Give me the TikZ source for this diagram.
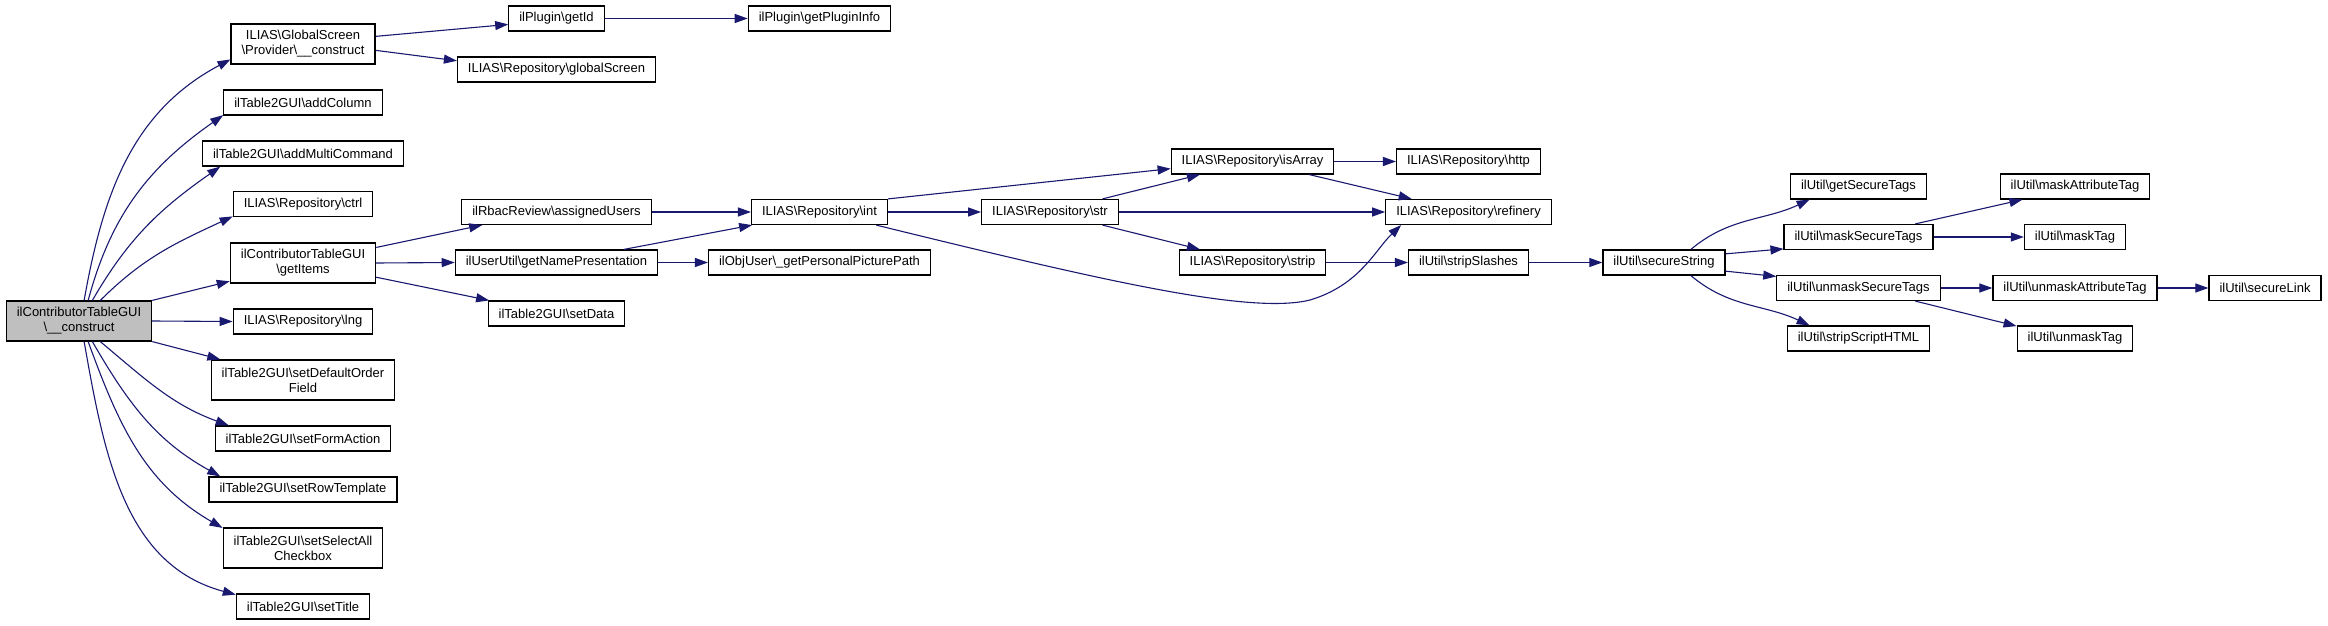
\documentclass[tikz,border=0pt]{standalone}
\usepackage{fontspec}
\setmainfont{Liberation Sans}
\usepackage{xcolor}
\usepackage{tikz}
\usetikzlibrary{arrows.meta}
\definecolor{edgeblue}{HTML}{191970}
\definecolor{curgrey}{HTML}{BFBFBF}
\newcommand{\bsl}{\textbackslash}

\begin{document}
\begin{tikzpicture}[
    x=1pt, y=1pt,
    box/.style={draw=black, line width=1.2pt, inner xsep=10.5pt, inner ysep=0pt, minimum height=25pt, align=center, font=\fontsize{13pt}{15pt}\selectfont},
    tall/.style={box, minimum height=40pt},
    call/.style={draw=edgeblue, line width=1.1pt, -{Triangle[length=13pt, width=9pt]}}
]
\useasboundingbox (0,0) rectangle (2328,625);

\node[tall, fill=curgrey] (main) at (79,304) {ilContributorTableGUI\\\bsl\_\_construct};

\node[tall] (gsc) at (303,581) {ILIAS\bsl GlobalScreen\\\bsl Provider\bsl\_\_construct};
\node[box] (addcol) at (303,522.5) {ilTable2GUI\bsl addColumn};
\node[box] (addmc) at (303,471.5) {ilTable2GUI\bsl addMultiCommand};
\node[box] (ctrl) at (303,421) {ILIAS\bsl Repository\bsl ctrl};
\node[tall] (getitems) at (303,362) {ilContributorTableGUI\\\bsl getItems};
\node[box] (lng) at (303,303.5) {ILIAS\bsl Repository\bsl lng};
\node[tall] (setdef) at (303,245) {ilTable2GUI\bsl setDefaultOrder\\Field};
\node[box] (setform) at (303,186.5) {ilTable2GUI\bsl setFormAction};
\node[box] (setrow) at (303,135.5) {ilTable2GUI\bsl setRowTemplate};
\node[tall] (setsel) at (303,77) {ilTable2GUI\bsl setSelectAll\\Checkbox};
\node[box] (settitle) at (303,18.5) {ilTable2GUI\bsl setTitle};

\node[box] (getid) at (556.5,606.5) {ilPlugin\bsl getId};
\node[box] (globalscreen) at (556.5,555.5) {ILIAS\bsl Repository\bsl globalScreen};
\node[box] (assigned) at (556.5,413) {ilRbacReview\bsl assignedUsers};
\node[box] (getname) at (556.5,362.5) {ilUserUtil\bsl getNamePresentation};
\node[box] (setdata) at (556.5,311.5) {ilTable2GUI\bsl setData};

\node[box] (plugininfo) at (819.5,606.5) {ilPlugin\bsl getPluginInfo};
\node[box] (int) at (819.5,413) {ILIAS\bsl Repository\bsl int};
\node[box] (picpath) at (819.5,362.5) {ilObjUser\bsl\_getPersonalPicturePath};

\node[box] (str) at (1050,413) {ILIAS\bsl Repository\bsl str};
\node[box] (isarray) at (1252.5,463.5) {ILIAS\bsl Repository\bsl isArray};
\node[box] (strip) at (1252.5,362.5) {ILIAS\bsl Repository\bsl strip};
\node[box] (http) at (1468.5,463.5) {ILIAS\bsl Repository\bsl http};
\node[box] (refinery) at (1468.5,413) {ILIAS\bsl Repository\bsl refinery};
\node[box] (stripslashes) at (1468.5,362.5) {ilUtil\bsl stripSlashes};

\node[box] (securestring) at (1664,362.5) {ilUtil\bsl secureString};
\node[box] (getsecure) at (1858.5,438.5) {ilUtil\bsl getSecureTags};
\node[box] (masksecure) at (1858.5,388) {ilUtil\bsl maskSecureTags};
\node[box] (unmasksecure) at (1858.5,337) {ilUtil\bsl unmaskSecureTags};
\node[box] (stripscript) at (1858.5,286.5) {ilUtil\bsl stripScriptHTML};
\node[box] (maskattr) at (2075,438.5) {ilUtil\bsl maskAttributeTag};
\node[box] (masktag) at (2075,388) {ilUtil\bsl maskTag};
\node[box] (unmaskattr) at (2075,337) {ilUtil\bsl unmaskAttributeTag};
\node[box] (unmasktag) at (2075,286.5) {ilUtil\bsl unmaskTag};
\node[box] (securelink) at (2265,337) {ilUtil\bsl secureLink};

\draw[call] (main.76) to[out=80, in=208] (gsc.192);
\draw[call] (main.66) to[out=75, in=215] (addcol.189);
\draw[call] (main.57) to[out=60, in=215] (addmc.189);
\draw[call] (main.44) to[out=45, in=205] (ctrl.190);
\draw[call] (main.north east) -- (getitems.194);
\draw[call] (main.east) -- (lng.west);
\draw[call] (main.south east) -- (setdef.166);
\draw[call] (main.-44) to[out=-40, in=160] (setform.170);
\draw[call] (main.-57) to[out=-60, in=151] (setrow.171);
\draw[call] (main.-66) to[out=-70, in=150] (setsel.166);
\draw[call] (main.-76) to[out=-80, in=165] (settitle.170);

\draw[call] (gsc.6) -- (getid.187);
\draw[call] (gsc.-5) -- (globalscreen.175);
\draw[call] (getid.east) -- (plugininfo.west);

\draw[call] (getitems.12) -- (assigned.190);
\draw[call] (getitems.east) -- (getname.west);
\draw[call] (getitems.-11) -- (setdata.169);
\draw[call] (assigned.east) -- (int.west);
\draw[call] (getname.11) -- (int.191);
\draw[call] (getname.east) -- (picpath.west);

\draw[call] (int.north east) -- (isarray.185);
\draw[call] (int.east) -- (str.west);
\draw[call] (int.-13) .. controls (1100,345) and (1250,310) .. (1310,325) .. controls (1360,340) and (1375,375) .. (refinery.191);
\draw[call] (str.14) -- (isarray.194);
\draw[call] (str.east) -- (refinery.west);
\draw[call] (str.-14) -- (strip.166);
\draw[call] (isarray.east) -- (http.west);
\draw[call] (isarray.-13) -- (refinery.167);
\draw[call] (strip.east) -- (stripslashes.west);
\draw[call] (stripslashes.east) -- (securestring.west);

\draw[call] (securestring.26) to[out=40, in=205] (getsecure.195);
\draw[call] (securestring.8) -- (masksecure.189);
\draw[call] (securestring.-8) -- (unmasksecure.172);
\draw[call] (securestring.-26) to[out=-40, in=155] (stripscript.165);
\draw[call] (masksecure.13) -- (maskattr.194);
\draw[call] (masksecure.east) -- (masktag.west);
\draw[call] (unmasksecure.east) -- (unmaskattr.west);
\draw[call] (unmasksecure.-13) -- (unmasktag.168);
\draw[call] (unmaskattr.east) -- (securelink.west);
\end{tikzpicture}
\end{document}
